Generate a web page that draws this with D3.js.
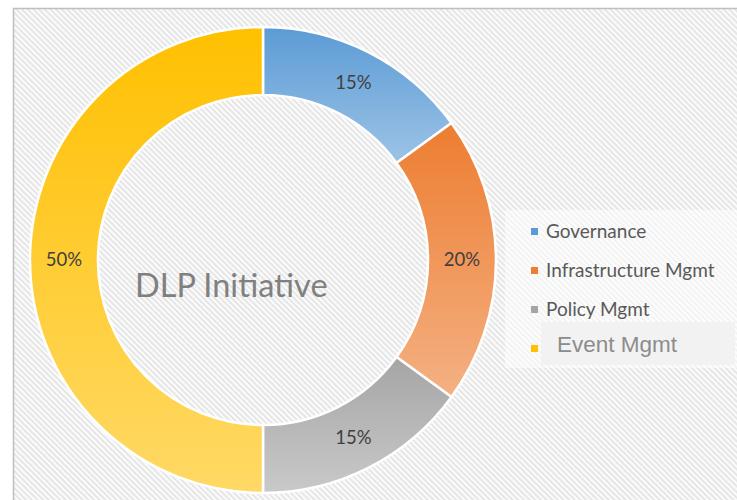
<!DOCTYPE html>
<html>
<head>
<meta charset="utf-8">
<script src="https://cdn.jsdelivr.net/npm/d3@7"></script>
<style>
  body { margin: 0; background: #fff; }
  svg { display: block; }
</style>
</head>
<body>
<script>
var categories = ["Governance", "Infrastructure Mgmt", "Policy Mgmt", "Event Mgmt"];
var values = [15, 20, 15, 50];
var topColors = ["#5b9bd5", "#ed7d31", "#a5a5a5", "#ffc000"];
var bottomColors = ["#9dc3e6", "#f4b183", "#c9c9c9", "#ffd966"];
var title = "DLP Initiative";

var svgWidth = 737,
    svgHeight = 500;
var cx = 263, cy = 260,
    outerR = 233, innerR = 165;

var svg = d3.select("body").append("svg")
    .attr("width", svgWidth)
    .attr("height", svgHeight);

var defs = svg.append("defs");

// diagonal hatch for the plot background
var hatch = defs.append("pattern")
    .attr("id", "hatch")
    .attr("patternUnits", "userSpaceOnUse")
    .attr("width", 4)
    .attr("height", 4)
    .attr("patternTransform", "rotate(-45)");
hatch.append("rect")
    .attr("width", 4).attr("height", 4)
    .attr("fill", "#fbfbfb");
hatch.append("line")
    .attr("x1", 1).attr("y1", 0)
    .attr("x2", 1).attr("y2", 4)
    .attr("stroke", "#e1e1e1")
    .attr("stroke-width", 1.6);

// one vertical gradient per slice
values.forEach(function(v, i) {
    var grad = defs.append("linearGradient")
        .attr("id", "grad" + i)
        .attr("x1", 0).attr("y1", 0)
        .attr("x2", 0).attr("y2", 1);
    grad.append("stop").attr("offset", "0%").attr("stop-color", topColors[i]);
    grad.append("stop").attr("offset", "100%").attr("stop-color", bottomColors[i]);
});

// background and frame
svg.append("rect")
    .attr("x", 13.5).attr("y", 8.5)
    .attr("width", svgWidth).attr("height", svgHeight)
    .attr("fill", "url(#hatch)")
    .attr("stroke", "#bfbfbf")
    .attr("stroke-width", 1.5);

var pie = d3.pie().sort(null).value(d => d);
var arc = d3.arc().innerRadius(innerR).outerRadius(outerR);
var labelArc = d3.arc().innerRadius((innerR + outerR) / 2).outerRadius((innerR + outerR) / 2);

var g = svg.append("g")
    .attr("transform", "translate(" + cx + "," + cy + ")");

var slices = g.selectAll("g.slice")
    .data(pie(values))
    .enter().append("g")
    .attr("class", "slice");

slices.append("path")
    .attr("d", arc)
    .attr("fill", (d, i) => "url(#grad" + i + ")")
    .attr("stroke", "#fff")
    .attr("stroke-width", 2.5);

slices.append("text")
    .attr("transform", d => "translate(" + labelArc.centroid(d) + ")")
    .attr("text-anchor", "middle")
    .attr("dy", "0.35em")
    .attr("font-family", "Lato, 'Noto Sans', sans-serif")
    .attr("font-size", 18.5)
    .attr("fill", "#404040")
    .text(d => d.data + "%");

// centre title
svg.append("text")
    .attr("x", 135)
    .attr("y", 297)
    .attr("font-family", "Lato, 'Noto Sans', sans-serif")
    .attr("font-size", 32.5)
    .attr("fill", "#808080")
    .text(title);

// legend
var legend = svg.append("g");
legend.append("rect")
    .attr("x", 505).attr("y", 210)
    .attr("width", 232).attr("height", 158)
    .attr("fill", "#fff")
    .attr("opacity", 0.5);

var legendY = d3.scalePoint()
    .domain(categories)
    .range([231, 348]);

var item = legend.selectAll("g.item")
    .data(categories)
    .enter().append("g")
    .attr("class", "item")
    .attr("transform", d => "translate(0," + legendY(d) + ")");

item.append("rect")
    .attr("x", 531).attr("y", -3)
    .attr("width", 7).attr("height", 7)
    .attr("fill", (d, i) => topColors[i]);

// last entry sits in a grey edit box with a different font
item.filter((d, i) => i === categories.length - 1)
    .append("rect")
    .attr("x", 541).attr("y", -26)
    .attr("width", 194).attr("height", 43)
    .attr("fill", "#f2f2f2");

item.append("text")
    .attr("x", (d, i) => i === categories.length - 1 ? 557 : 546)
    .attr("y", (d, i) => i === categories.length - 1 ? -4 : 0)
    .attr("dy", "0.35em")
    .attr("font-family", (d, i) => i === categories.length - 1 ? "'Liberation Sans', Arial, sans-serif" : "Lato, 'Noto Sans', sans-serif")
    .attr("font-size", (d, i) => i === categories.length - 1 ? 22.5 : 19)
    .attr("fill", (d, i) => i === categories.length - 1 ? "#8c8c8c" : "#595959")
    .text(d => d);
</script>
</body>
</html>
